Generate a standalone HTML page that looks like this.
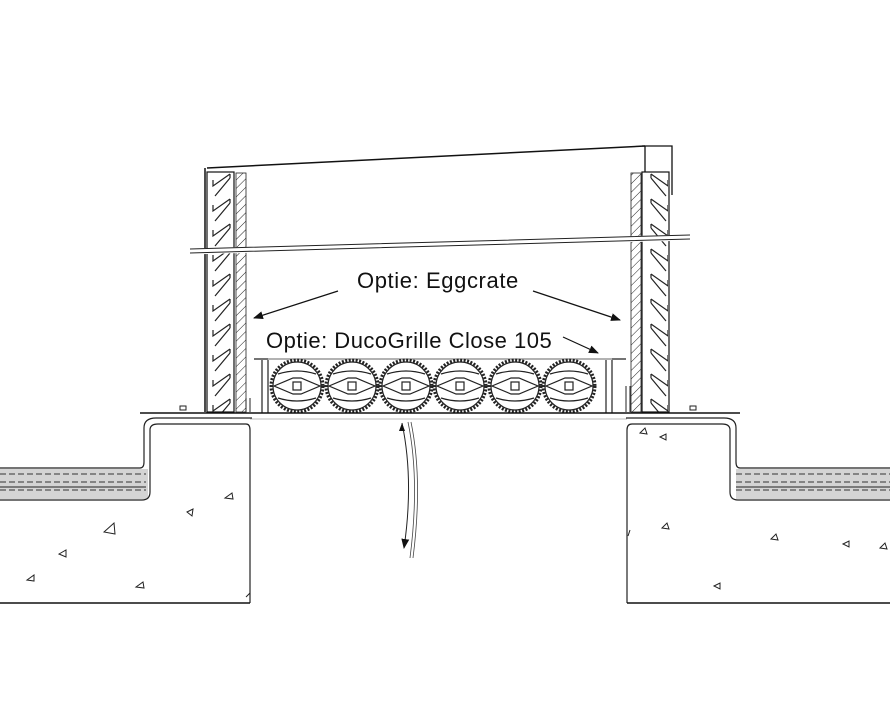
<!DOCTYPE html>
<html><head><meta charset="utf-8"><style>
html,body{margin:0;padding:0;background:#fff;}
svg{display:block;}
text{font-family:"Liberation Sans",sans-serif;}
</style></head><body>
<svg width="890" height="709" viewBox="0 0 890 709" xmlns="http://www.w3.org/2000/svg">
<defs>
<pattern id="hat" width="6" height="6" patternUnits="userSpaceOnUse" patternTransform="rotate(45)">
<line x1="0" y1="0" x2="0" y2="6" stroke="#222" stroke-width="1"/>
</pattern>
<pattern id="lvL" width="30" height="25" patternUnits="userSpaceOnUse" x="208" y="172">
<path d="M5,8 L5,14 L22,2 M22,6 L7,24 M22,2 L22,6" fill="none" stroke="#222" stroke-width="1.2"/>
</pattern>
<pattern id="lvR" width="30" height="25" patternUnits="userSpaceOnUse" x="643" y="172">
<path d="M25,8 L25,14 L8,2 M8,6 L23,24 M8,2 L8,6" fill="none" stroke="#222" stroke-width="1.2"/>
</pattern>
<marker id="ar" markerWidth="10" markerHeight="8" refX="9" refY="4" orient="auto" markerUnits="userSpaceOnUse">
<path d="M0,0 L10,4 L0,8 z" fill="#111"/>
</marker>
</defs>

<path d="M207,168 L645,146" stroke="#111" stroke-width="1.5" fill="none"/>
<path d="M642,146 L672,146 L672,195 M645,146 L645,172" stroke="#111" stroke-width="1.3" fill="none"/>
<path d="M205,168 L205,412" stroke="#111" stroke-width="1.5"/>

<rect x="208" y="172" width="25" height="240" fill="url(#lvL)"/>
<rect x="207" y="172" width="27" height="240" fill="none" stroke="#111" stroke-width="1.2"/>
<rect x="236" y="173" width="10" height="239" fill="url(#hat)" stroke="#222" stroke-width="0.8"/>
<rect x="643" y="172" width="25" height="240" fill="url(#lvR)"/>
<rect x="642" y="172" width="27" height="240" fill="none" stroke="#111" stroke-width="1.2"/>
<rect x="631" y="173" width="10" height="239" fill="url(#hat)" stroke="#222" stroke-width="0.8"/>

<path d="M190,250 L690,236 M190,253 L690,239" stroke="#fff" stroke-width="3"/>
<path d="M190,249 L690,235 M190,253 L690,239" stroke="#222" stroke-width="1"/>

<text x="357" y="288" font-size="22" letter-spacing="0.6" fill="#111">Optie: Eggcrate</text>
<line x1="338" y1="291" x2="254" y2="318" stroke="#111" stroke-width="1.2" marker-end="url(#ar)"/>
<line x1="533" y1="291" x2="620" y2="320" stroke="#111" stroke-width="1.2" marker-end="url(#ar)"/>
<text x="266" y="348" font-size="22" letter-spacing="0.5" fill="#111">Optie: DucoGrille Close 105</text>
<line x1="563" y1="337" x2="598" y2="353" stroke="#111" stroke-width="1.2" marker-end="url(#ar)"/>

<path d="M256,359 L624,359" stroke="#666" stroke-width="1"/>
<path d="M262,360 L262,413 M268,360 L268,413 M612,360 L612,413 M606,360 L606,413 M254,359 L268,359 M612,359 L626,359" stroke="#222" stroke-width="1.2" fill="none"/>
<g stroke="#222" fill="none" stroke-width="1.2">
<g id="c"><circle cx="297" cy="386" r="26" stroke-dasharray="2 1.5" stroke-width="3"/><circle cx="297" cy="386" r="24"/>
<path d="M274,386 L293,378 L301,378 L320,386 L301,394 L293,394 Z M278,374 Q297,368 316,374 M278,398 Q297,404 316,398"/>
<rect x="293" y="382" width="8" height="8" fill="#fff"/></g>
<use href="#c" x="55"/><use href="#c" x="109"/><use href="#c" x="163"/><use href="#c" x="218"/><use href="#c" x="272"/>
</g>
<path d="M246,398 L246,412 M250,398 L250,412 M626,386 L626,412 M630,386 L630,412" stroke="#222" stroke-width="1"/>

<path d="M140,413 L740,413" stroke="#111" stroke-width="1.5"/>
<path d="M250,419 L627,419" stroke="#bbb" stroke-width="1"/>
<path d="M180,410 l6,0 l0,-4 l-6,0 z M690,410 l6,0 l0,-4 l-6,0 z" stroke="#222" fill="none"/>

<rect x="0" y="469" width="148" height="30" fill="#d4d4d4"/>
<path d="M0,474 H146 M0,482 H146 M0,490 H146" stroke="#333" stroke-width="1" stroke-dasharray="6 3"/>
<path d="M0,487 H146" stroke="#222" stroke-width="1"/>
<path d="M0,468 H140 Q144,468 144,462 V428 Q144,418 156,418 H252" stroke="#222" stroke-width="1.2" fill="none"/>
<path d="M0,500 H142 Q150,500 150,492 V430 Q150,424 158,424 H246 Q250,424 250,430 V603" stroke="#222" stroke-width="1.2" fill="none"/>
<path d="M0,603 H250" stroke="#111" stroke-width="1.5"/>
<rect x="736" y="469" width="154" height="30" fill="#d4d4d4"/>
<path d="M736,474 H890 M736,482 H890 M736,490 H890" stroke="#333" stroke-width="1" stroke-dasharray="6 3"/>
<path d="M736,487 H890" stroke="#222" stroke-width="1"/>
<path d="M890,468 H740 Q736,468 736,462 V428 Q736,418 724,418 H626" stroke="#222" stroke-width="1.2" fill="none"/>
<path d="M890,500 H738 Q730,500 730,492 V430 Q730,424 722,424 H632 Q627,424 627,430 V603" stroke="#222" stroke-width="1.2" fill="none"/>
<path d="M627,603 H890" stroke="#111" stroke-width="1.5"/>

<g stroke="#222" fill="none" stroke-width="1">
<path d="M225,498 l7,-5 l1,6 z M187,512 l6,-3 l-1,7 z M104,532 l10,-9 l1,11 z M59,554 l7,-4 l0,7 z M27,580 l7,-5 l0,6 z M136,587 l7,-5 l1,6 z M246,597 l4,-4 M640,433 l5,-5 l2,6 z M660,437 l6,-3 l0,6 z M630,530 l-2,6 M662,528 l5,-5 l2,6 z M771,539 l5,-5 l2,6 z M843,544 l6,-3 l0,6 z M880,548 l5,-5 l2,6 z M714,586 l6,-3 l0,6 z"/>
</g>

<path d="M402,423 Q414,480 404,548" stroke="#222" stroke-width="1" fill="none" marker-end="url(#ar)"/>
<path d="M402,423 l-3,8 l6,0 z" fill="#111"/>
<path d="M408,422 Q420,480 410,558 M411,422 Q423,480 413,558" stroke="#444" stroke-width="0.8" fill="none"/>
</svg>
</body></html>
